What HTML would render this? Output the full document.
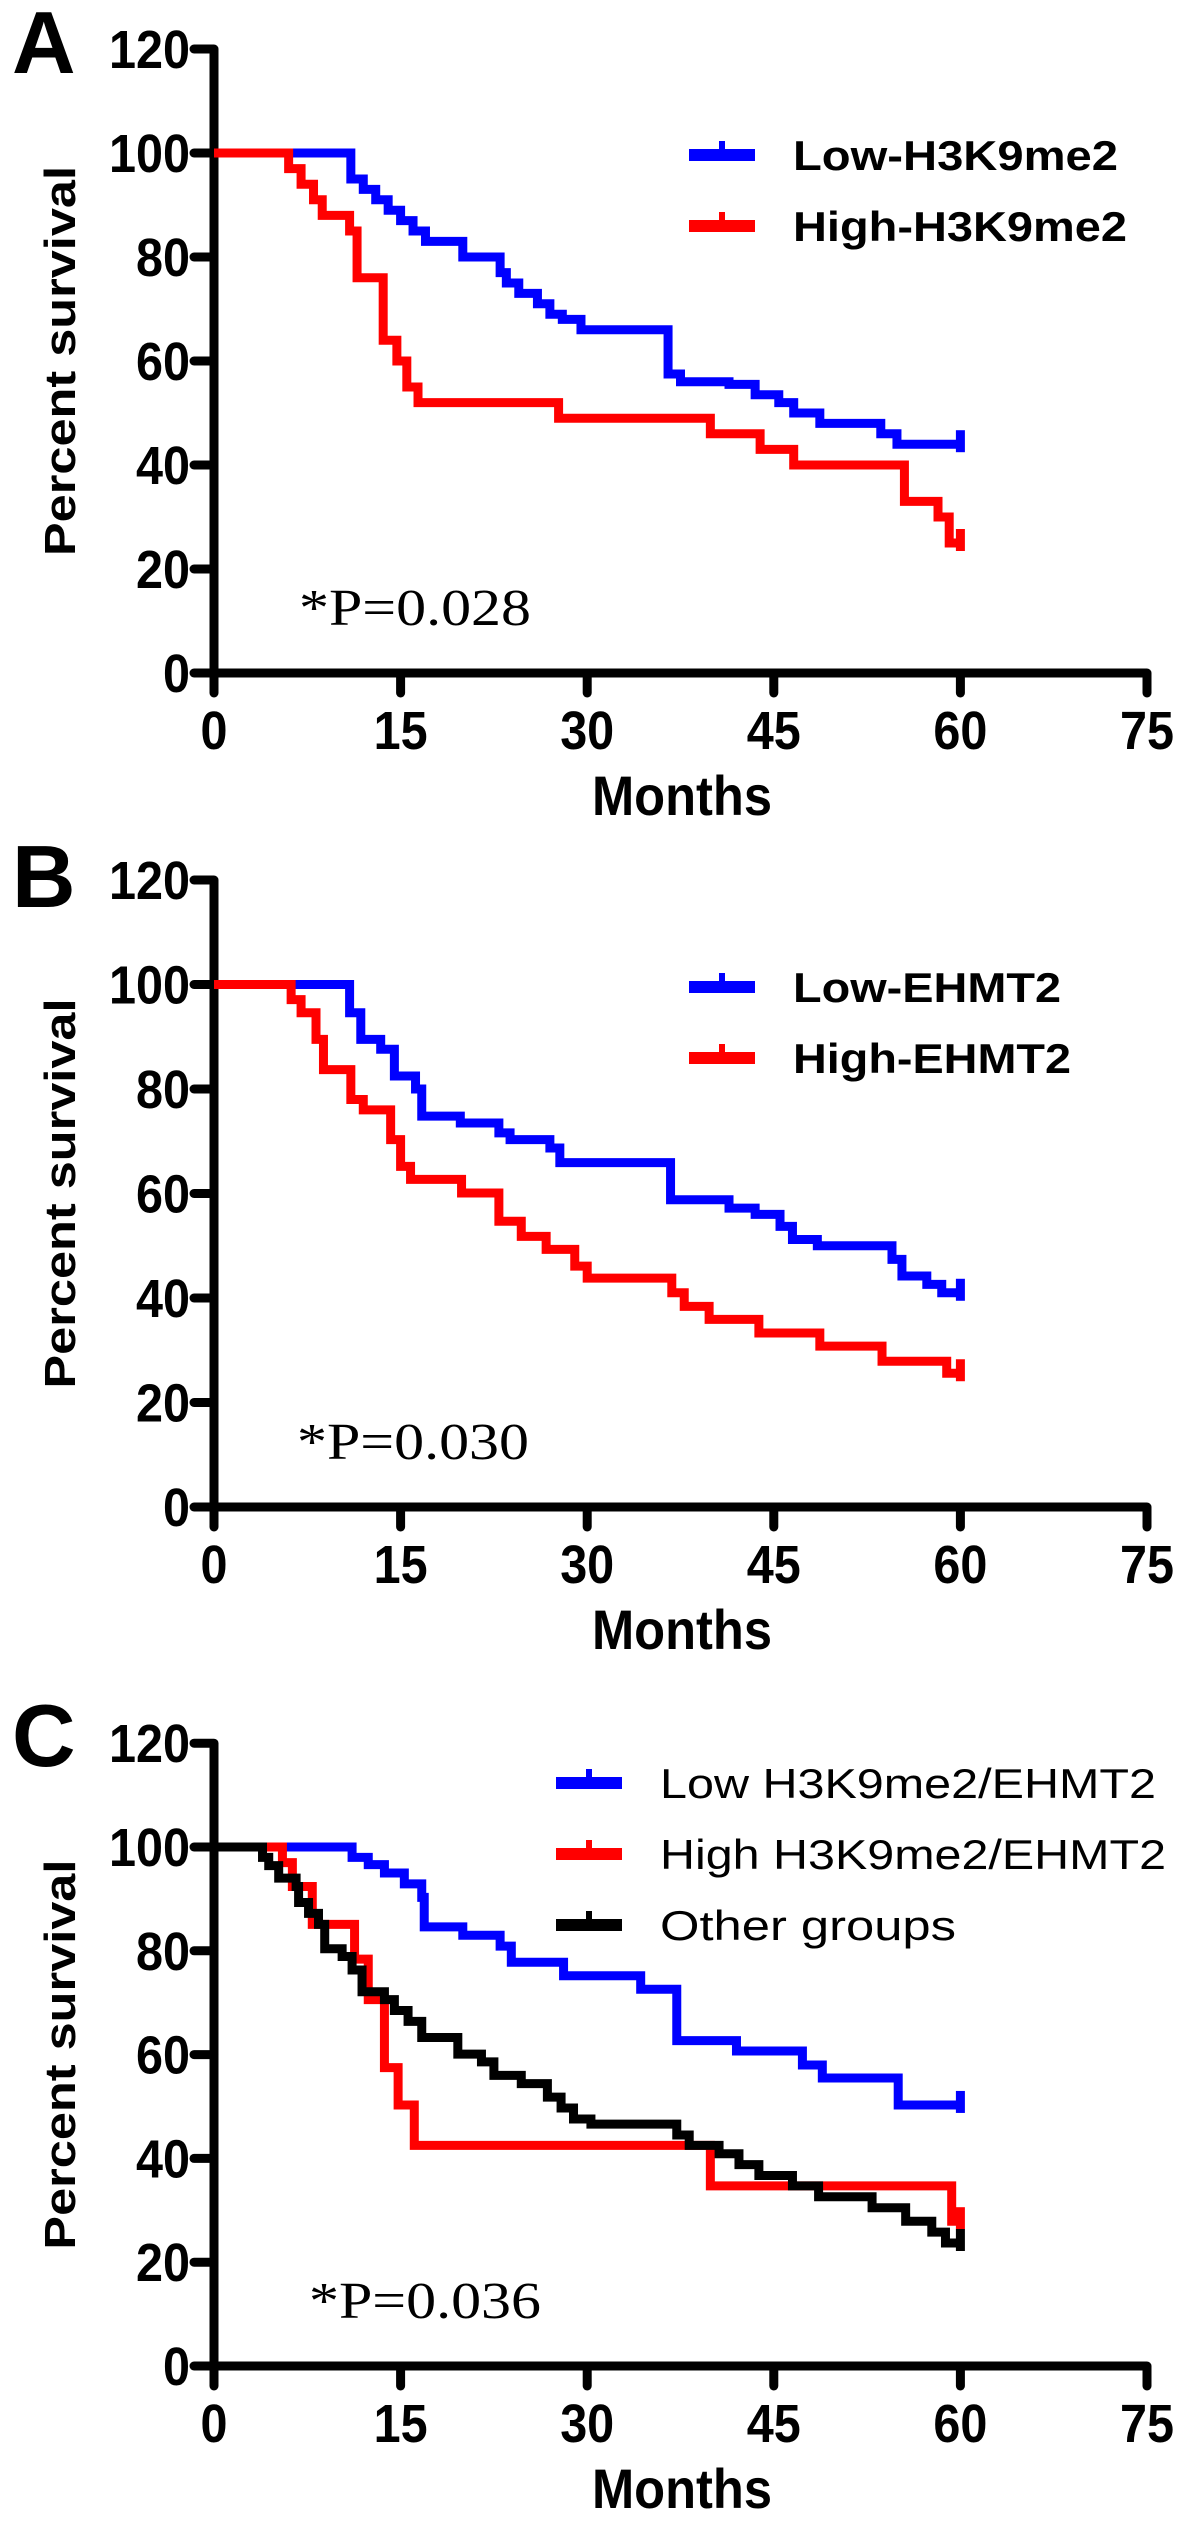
<!DOCTYPE html>
<html><head><meta charset="utf-8"><style>html,body{margin:0;padding:0;background:#fff}svg{display:block}</style></head>
<body>
<svg id="fig" width="1181" height="2523" viewBox="0 0 1181 2523" xmlns="http://www.w3.org/2000/svg"></svg>
<script>
// Panel A data
const aLowT = [0,11,12,13,14,15,16,17,20,23,23.5,24.5,26,27,28,29.5,36.5,37.5,41.4,43.5,45.4,46.6,48.7,53.6,54.9];
const aLowS = [100,95,93,91,89,87,85,83,80,77,75,73,71,69,68,66,57.5,56,55.5,53.5,52,50,48,46,44];
const aHighT = [0,6,7,8,8.7,10.9,11.5,13.6,14.7,15.5,16.4,27.7,39.9,43.9,46.6,55.5,58.2,59.1];
const aHighS = [100,97,94,91,88,85,76,64,60,55,52,49,46,43,40,33,30,25];
// Panel B data
const bLowT = [0,10.9,11.8,13.4,14.5,16.2,16.7,19.8,22.9,23.8,27,27.8,36.7,41.4,43.5,45.5,46.5,48.5,54.5,55.3,57.3,58.5];
const bLowS = [100,94.6,89.5,87.6,82.5,80,74.8,73.5,71.6,70.3,68.7,65.9,58.8,57.2,56,53.7,51.2,50,47.4,44.2,42.6,41];
const bHighT = [0,6.2,7,8.2,8.8,11,12,14.2,15,15.8,19.9,22.9,24.7,26.7,29,30,36.8,37.8,39.8,43.8,48.7,53.7,58.9];
const bHighS = [100,97.1,94.6,89.5,83.7,78,76,70.3,65.2,62.7,60.1,54.7,51.8,49.3,46.1,43.8,41,38.4,35.9,33.3,30.8,27.9,25.6];
// Panel C data
const cLowT = [0,11.1,12.4,13.7,15.3,16.7,16.9,20,23,23.9,28.1,34.3,37.2,42,47.3,48.9,55];
const cLowS = [100,98,96.6,95,92.9,90.3,84.6,83,80.9,77.8,75.2,72.6,62.7,60.7,58,55.5,50.3];
const cHighT = [0,5.5,6.3,7.9,11.3,12.4,13.7,14.8,16.1,39.9,59.3];
const cHighS = [100,97,92.4,85.1,78.4,70.6,57.5,50.3,42.5,34.7,27.9];
const cOthT = [0,3.9,4.4,5.2,6.6,6.8,7.6,8.4,8.9,10.3,11.1,11.9,13.7,14.5,15.6,16.7,19.6,21.5,22.5,24.7,26.8,27.9,28.9,30.3,37.2,38.2,40.6,42.2,43.8,46.5,48.6,52.9,55.6,57.7,58.8];
const cOthS = [100,98,96.4,94,92.4,89.3,87.2,85.1,80.4,78.9,76.3,72.1,70.6,68.5,66.4,63.3,60.1,58.6,56,54.4,51.8,49.7,47.6,46.6,44.5,42.5,40.9,38.8,36.7,34.7,32.6,30.5,27.9,25.8,23.7];
const yTicks = [0,20,40,60,80,100,120];
const xTicks = [0,15,30,45,60,75];

const NS="http://www.w3.org/2000/svg";
const svg=document.getElementById('fig');
function mk(tag,attrs,parent){const e=document.createElementNS(NS,tag);for(const k in attrs)e.setAttribute(k,attrs[k]);(parent||svg).appendChild(e);return e;}
const X0=214, PXM=12.44;
function xs(m){return X0+m*PXM;}

function panel(p){
  const g=mk('g',{});
  
  
  const ys=v=>p.y0-v*p.k;
  const L=mk('text',{x:12,y:p.y0-600,'font-family':'Liberation Sans, sans-serif','font-weight':'bold','font-size':88},g);
  L.textContent=p.letter;
  
  
  const ax=mk('path',{d:`M${X0},${ys(120)} V${p.y0} H${xs(75)}`,stroke:'#000','stroke-width':9,fill:'none','stroke-linejoin':'miter'},g);
  
  
  yTicks.forEach(v=>{
    const t=mk('line',{x1:X0-20,x2:X0,y1:ys(v),y2:ys(v),stroke:'#000','stroke-width':9,'stroke-linecap':'round'},g);
    
    
    const s=String(v);
    const tx=mk('text',{x:X0-24,y:ys(v)+19,'text-anchor':'end','font-family':'Liberation Sans, sans-serif','font-weight':'bold','font-size':54,textLength:s.length*27,lengthAdjust:'spacingAndGlyphs'},g);
    tx.textContent=s;
    
    
  });
  xTicks.forEach(v=>{
    const t=mk('line',{x1:xs(v),x2:xs(v),y1:p.y0,y2:p.y0+20,stroke:'#000','stroke-width':9,'stroke-linecap':'round'},g);
    
    
    const s=String(v);
    const tx=mk('text',{x:xs(v),y:p.y0+76,'text-anchor':'middle','font-family':'Liberation Sans, sans-serif','font-weight':'bold','font-size':54,textLength:s.length*27,lengthAdjust:'spacingAndGlyphs'},g);
    tx.textContent=s;
    
    
  });
  const xt=mk('text',{x:682,y:p.y0+142,'text-anchor':'middle','font-family':'Liberation Sans, sans-serif','font-weight':'bold','font-size':56,textLength:180,lengthAdjust:'spacingAndGlyphs'},g);
  xt.textContent='Months';
  
  
  const cy=ys(60);
  const yt=mk('text',{x:0,y:0,'text-anchor':'middle','font-family':'Liberation Sans, sans-serif','font-weight':'bold','font-size':44,textLength:390,lengthAdjust:'spacingAndGlyphs',transform:`translate(75,${cy}) rotate(-90)`},g);
  yt.textContent='Percent survival';
  
  
  const pv=mk('text',{x:p.px,y:p.y0-48,'font-family':'Liberation Serif, serif','font-size':52,textLength:232,lengthAdjust:'spacingAndGlyphs'},g);
  pv.textContent=p.pval;
  
  
  p.series.forEach((s,i)=>{
    let d=`M${xs(s.t[0])},${ys(s.s[0])}`;
    for(let j=1;j<s.t.length;j++){d+=` H${xs(s.t[j])} V${ys(s.s[j])}`;}
    d+=` H${xs(60)}`;
    const path=mk('path',{d:d,stroke:s.c,'stroke-width':9,fill:'none','stroke-linejoin':'miter'},g);
    
    
    const last=s.s[s.s.length-1];
    mk('line',{x1:xs(60),x2:xs(60),y1:ys(last)+8,y2:ys(last)-14,stroke:s.c,'stroke-width':9},g);
    const ly=p.legY+i*p.legDy;
    const ll=mk('line',{x1:p.legX,x2:p.legX+66,y1:ly,y2:ly,stroke:s.c,'stroke-width':12},g);
    
    
    mk('line',{x1:p.legX+33,x2:p.legX+33,y1:ly,y2:ly-14,stroke:s.c,'stroke-width':6},g);
    const lt=mk('text',{x:p.legX+104,y:ly+15,'font-family':'Liberation Sans, sans-serif','font-weight':p.legW,'font-size':42,textLength:s.lw,lengthAdjust:'spacingAndGlyphs'},g);
    lt.textContent=s.label;
    
    
  });
}
panel({id:'a',letter:'A',y0:673,k:5.2,pval:'*P=0.028',px:299,legX:689,legY:155,legDy:71,legW:'bold',series:[
  {t:aLowT,s:aLowS,c:'#0000ff',n:'low-h3k9me2',label:'Low-H3K9me2',lw:325},
  {t:aHighT,s:aHighS,c:'#ff0000',n:'high-h3k9me2',label:'High-H3K9me2',lw:334}]});
panel({id:'b',letter:'B',y0:1507,k:5.225,pval:'*P=0.030',px:297,legX:689,legY:987,legDy:71,legW:'bold',series:[
  {t:bLowT,s:bLowS,c:'#0000ff',n:'low-ehmt2',label:'Low-EHMT2',lw:268},
  {t:bHighT,s:bHighS,c:'#ff0000',n:'high-ehmt2',label:'High-EHMT2',lw:278}]});
panel({id:'c',letter:'C',y0:2366,k:5.19,pval:'*P=0.036',px:309,legX:556,legY:1783,legDy:71,legW:'normal',series:[
  {t:cLowT,s:cLowS,c:'#0000ff',n:'low-both',label:'Low H3K9me2/EHMT2',lw:496},
  {t:cHighT,s:cHighS,c:'#ff0000',n:'high-both',label:'High H3K9me2/EHMT2',lw:506},
  {t:cOthT,s:cOthS,c:'#000000',n:'other-groups',label:'Other groups',lw:296}]});
</script>
</body></html>
